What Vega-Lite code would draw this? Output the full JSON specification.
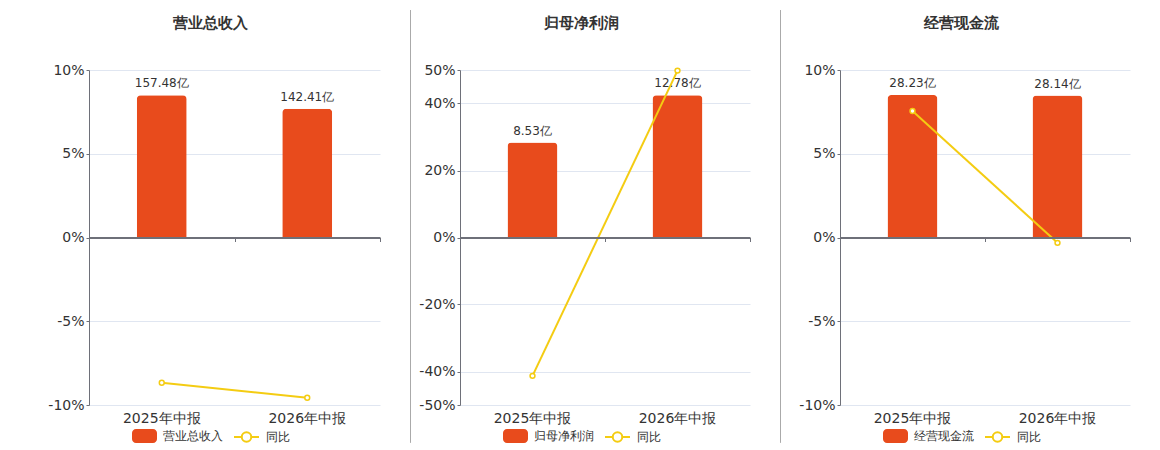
{
  "$schema": "https://vega.github.io/schema/vega-lite/v6.json",
  "background": "white",
  "autosize": {"type": "pad"},
  "padding": {"left": 47, "top": 9, "right": 30, "bottom": 7},
  "bounds": "flush",
  "spacing": 30,
  "config": {
    "font": "DejaVu Sans",
    "view": {"stroke": null},
    "title": {"frame": "group", "anchor": "middle", "dx": -24, "baseline": "bottom", "offset": 32, "fontSize": 15, "fontWeight": "bold", "color": "#333333"},
    "axis": {"labelFontSize": 14, "labelColor": "#333333"},
    "legend": {"symbolSize": 625, "labelFontSize": 12, "labelColor": "#333333", "labelOffset": 6, "padding": 0}
  },
  "hconcat": [
    {
      "width": 291,
      "height": 335,
      "title": {"text": "营业总收入"},
      "data": {"values": [
        {"period": "2025年中报", "value": 157.48, "yoy": -8.67},
        {"period": "2026年中报", "value": 142.41, "yoy": -9.57}
      ]},
      "transform": [{"calculate": "format(datum.value, '.2f') + '亿'", "as": "label"}],
      "layer": [
        {
          "encoding": {
            "x": {"field": "period", "type": "nominal", "sort": null, "scale": {"paddingInner": 0, "paddingOuter": 0},
              "axis": {"title": null, "labelAngle": 0, "domain": false, "ticks": false, "grid": false, "labelPadding": 6}},
            "y": {"field": "value", "type": "quantitative", "scale": {"domain": [-185.3, 185.3], "nice": false}, "axis": null}
          },
          "layer": [
            {
              "mark": {"type": "bar", "width": 50, "cornerRadiusTopLeft": 4, "cornerRadiusTopRight": 4},
              "encoding": {"fill": {"datum": "营业总收入", "type": "nominal", "scale": {"range": ["#E84B1C"]},
                "legend": {"orient": "none", "legendX": 43, "legendY": 353.5, "title": null, "symbolStrokeWidth": 0,
                  "symbolType": "M-0.68,-0.56H0.68A0.32,0.32 0 0 1 1,-0.24V0.24A0.32,0.32 0 0 1 0.68,0.56H-0.68A0.32,0.32 0 0 1 -1,0.24V-0.24A0.32,0.32 0 0 1 -0.68,-0.56Z"}}}
            },
            {
              "mark": {"type": "text", "baseline": "bottom", "dy": -5, "fontSize": 12, "color": "#333333"},
              "encoding": {"text": {"field": "label"}}
            }
          ]
        },
        {
          "encoding": {
            "x": {"field": "period", "type": "nominal", "sort": null,
              "axis": {"title": null, "orient": "bottom", "offset": -167.5, "labels": false, "grid": false, "domain": true, "domainColor": "#6E7079", "domainWidth": 2, "ticks": true, "tickBand": "extent", "tickSize": 4, "tickColor": "#6E7079", "zindex": 1}},
            "y": {"field": "yoy", "type": "quantitative", "scale": {"domain": [-10, 10], "nice": false},
              "axis": {"title": null, "values": [-10, -5, 0, 5, 10], "labelExpr": "datum.value + '%'", "grid": true, "gridColor": "#E0E6F1", "domainColor": "#6E7079", "tickColor": "#6E7079", "tickSize": 3, "labelPadding": 2}}
          },
          "layer": [
            {
              "mark": {"type": "line", "strokeWidth": 2},
              "encoding": {"stroke": {"datum": "同比", "type": "nominal", "scale": {"range": ["#F4CC12"]},
                "legend": {"orient": "none", "legendX": 144, "legendY": 353.5, "title": null, "symbolStrokeWidth": 2, "symbolFillColor": "white",
                  "symbolType": "M-1,0H-0.38M0.38,0H1M-0.38,0A0.38,0.38 0 1 1 0.38,0A0.38,0.38 0 1 1 -0.38,0Z"}}}
            },
            {"mark": {"type": "point", "filled": true, "fill": "white", "stroke": "#F4CC12", "strokeWidth": 1.5, "size": 24, "opacity": 1}}
          ]
        }
      ],
      "resolve": {"scale": {"y": "independent"}, "axis": {"x": "independent"}}
    },
    {
      "width": 20,
      "height": 335,
      "data": {"values": [{}]},
      "mark": {"type": "rule", "color": "#AAAAAA", "strokeWidth": 1, "clip": false},
      "encoding": {
        "x": {"value": 0.5},
        "y": {"datum": 1.179, "type": "quantitative", "scale": {"domain": [0, 1], "nice": false, "zero": false}, "axis": null},
        "y2": {"datum": -0.113}
      }
    },
    {
      "width": 290,
      "height": 335,
      "title": {"text": "归母净利润"},
      "data": {"values": [
        {"period": "2025年中报", "value": 8.53, "yoy": -41.3},
        {"period": "2026年中报", "value": 12.78, "yoy": 49.82}
      ]},
      "transform": [{"calculate": "format(datum.value, '.2f') + '亿'", "as": "label"}],
      "layer": [
        {
          "encoding": {
            "x": {"field": "period", "type": "nominal", "sort": null, "scale": {"paddingInner": 0, "paddingOuter": 0},
              "axis": {"title": null, "labelAngle": 0, "domain": false, "ticks": false, "grid": false, "labelPadding": 6}},
            "y": {"field": "value", "type": "quantitative", "scale": {"domain": [-15.04, 15.04], "nice": false}, "axis": null}
          },
          "layer": [
            {
              "mark": {"type": "bar", "width": 50, "cornerRadiusTopLeft": 4, "cornerRadiusTopRight": 4},
              "encoding": {"fill": {"datum": "归母净利润", "type": "nominal", "scale": {"range": ["#E84B1C"]},
                "legend": {"orient": "none", "legendX": 43, "legendY": 353.5, "title": null, "symbolStrokeWidth": 0,
                  "symbolType": "M-0.68,-0.56H0.68A0.32,0.32 0 0 1 1,-0.24V0.24A0.32,0.32 0 0 1 0.68,0.56H-0.68A0.32,0.32 0 0 1 -1,0.24V-0.24A0.32,0.32 0 0 1 -0.68,-0.56Z"}}}
            },
            {
              "mark": {"type": "text", "baseline": "bottom", "dy": -5, "fontSize": 12, "color": "#333333"},
              "encoding": {"text": {"field": "label"}}
            }
          ]
        },
        {
          "encoding": {
            "x": {"field": "period", "type": "nominal", "sort": null,
              "axis": {"title": null, "orient": "bottom", "offset": -167.5, "labels": false, "grid": false, "domain": true, "domainColor": "#6E7079", "domainWidth": 2, "ticks": true, "tickBand": "extent", "tickSize": 4, "tickColor": "#6E7079", "zindex": 1}},
            "y": {"field": "yoy", "type": "quantitative", "scale": {"domain": [-50, 50], "nice": false},
              "axis": {"title": null, "values": [-50, -40, -20, 0, 20, 40, 50], "labelExpr": "datum.value + '%'", "grid": true, "gridColor": "#E0E6F1", "domainColor": "#6E7079", "tickColor": "#6E7079", "tickSize": 3, "labelPadding": 2}}
          },
          "layer": [
            {
              "mark": {"type": "line", "strokeWidth": 2},
              "encoding": {"stroke": {"datum": "同比", "type": "nominal", "scale": {"range": ["#F4CC12"]},
                "legend": {"orient": "none", "legendX": 144, "legendY": 353.5, "title": null, "symbolStrokeWidth": 2, "symbolFillColor": "white",
                  "symbolType": "M-1,0H-0.38M0.38,0H1M-0.38,0A0.38,0.38 0 1 1 0.38,0A0.38,0.38 0 1 1 -0.38,0Z"}}}
            },
            {"mark": {"type": "point", "filled": true, "fill": "white", "stroke": "#F4CC12", "strokeWidth": 1.5, "size": 24, "opacity": 1}}
          ]
        }
      ],
      "resolve": {"scale": {"y": "independent"}, "axis": {"x": "independent"}}
    },
    {
      "width": 30,
      "height": 335,
      "data": {"values": [{}]},
      "mark": {"type": "rule", "color": "#AAAAAA", "strokeWidth": 1, "clip": false},
      "encoding": {
        "x": {"value": 0.5},
        "y": {"datum": 1.179, "type": "quantitative", "scale": {"domain": [0, 1], "nice": false, "zero": false}, "axis": null},
        "y2": {"datum": -0.113}
      }
    },
    {
      "width": 290,
      "height": 335,
      "title": {"text": "经营现金流"},
      "data": {"values": [
        {"period": "2025年中报", "value": 28.23, "yoy": 7.55},
        {"period": "2026年中报", "value": 28.14, "yoy": -0.32}
      ]},
      "transform": [{"calculate": "format(datum.value, '.2f') + '亿'", "as": "label"}],
      "layer": [
        {
          "encoding": {
            "x": {"field": "period", "type": "nominal", "sort": null, "scale": {"paddingInner": 0, "paddingOuter": 0},
              "axis": {"title": null, "labelAngle": 0, "domain": false, "ticks": false, "grid": false, "labelPadding": 6}},
            "y": {"field": "value", "type": "quantitative", "scale": {"domain": [-33.2, 33.2], "nice": false}, "axis": null}
          },
          "layer": [
            {
              "mark": {"type": "bar", "width": 50, "cornerRadiusTopLeft": 4, "cornerRadiusTopRight": 4},
              "encoding": {"fill": {"datum": "经营现金流", "type": "nominal", "scale": {"range": ["#E84B1C"]},
                "legend": {"orient": "none", "legendX": 43, "legendY": 353.5, "title": null, "symbolStrokeWidth": 0,
                  "symbolType": "M-0.68,-0.56H0.68A0.32,0.32 0 0 1 1,-0.24V0.24A0.32,0.32 0 0 1 0.68,0.56H-0.68A0.32,0.32 0 0 1 -1,0.24V-0.24A0.32,0.32 0 0 1 -0.68,-0.56Z"}}}
            },
            {
              "mark": {"type": "text", "baseline": "bottom", "dy": -5, "fontSize": 12, "color": "#333333"},
              "encoding": {"text": {"field": "label"}}
            }
          ]
        },
        {
          "encoding": {
            "x": {"field": "period", "type": "nominal", "sort": null,
              "axis": {"title": null, "orient": "bottom", "offset": -167.5, "labels": false, "grid": false, "domain": true, "domainColor": "#6E7079", "domainWidth": 2, "ticks": true, "tickBand": "extent", "tickSize": 4, "tickColor": "#6E7079", "zindex": 1}},
            "y": {"field": "yoy", "type": "quantitative", "scale": {"domain": [-10, 10], "nice": false},
              "axis": {"title": null, "values": [-10, -5, 0, 5, 10], "labelExpr": "datum.value + '%'", "grid": true, "gridColor": "#E0E6F1", "domainColor": "#6E7079", "tickColor": "#6E7079", "tickSize": 3, "labelPadding": 2}}
          },
          "layer": [
            {
              "mark": {"type": "line", "strokeWidth": 2},
              "encoding": {"stroke": {"datum": "同比", "type": "nominal", "scale": {"range": ["#F4CC12"]},
                "legend": {"orient": "none", "legendX": 144, "legendY": 353.5, "title": null, "symbolStrokeWidth": 2, "symbolFillColor": "white",
                  "symbolType": "M-1,0H-0.38M0.38,0H1M-0.38,0A0.38,0.38 0 1 1 0.38,0A0.38,0.38 0 1 1 -0.38,0Z"}}}
            },
            {"mark": {"type": "point", "filled": true, "fill": "white", "stroke": "#F4CC12", "strokeWidth": 1.5, "size": 24, "opacity": 1}}
          ]
        }
      ],
      "resolve": {"scale": {"y": "independent"}, "axis": {"x": "independent"}}
    }
  ],
  "resolve": {
    "scale": {"x": "independent", "y": "independent", "fill": "independent", "stroke": "independent"},
    "legend": {"fill": "independent", "stroke": "independent"}
  }
}
